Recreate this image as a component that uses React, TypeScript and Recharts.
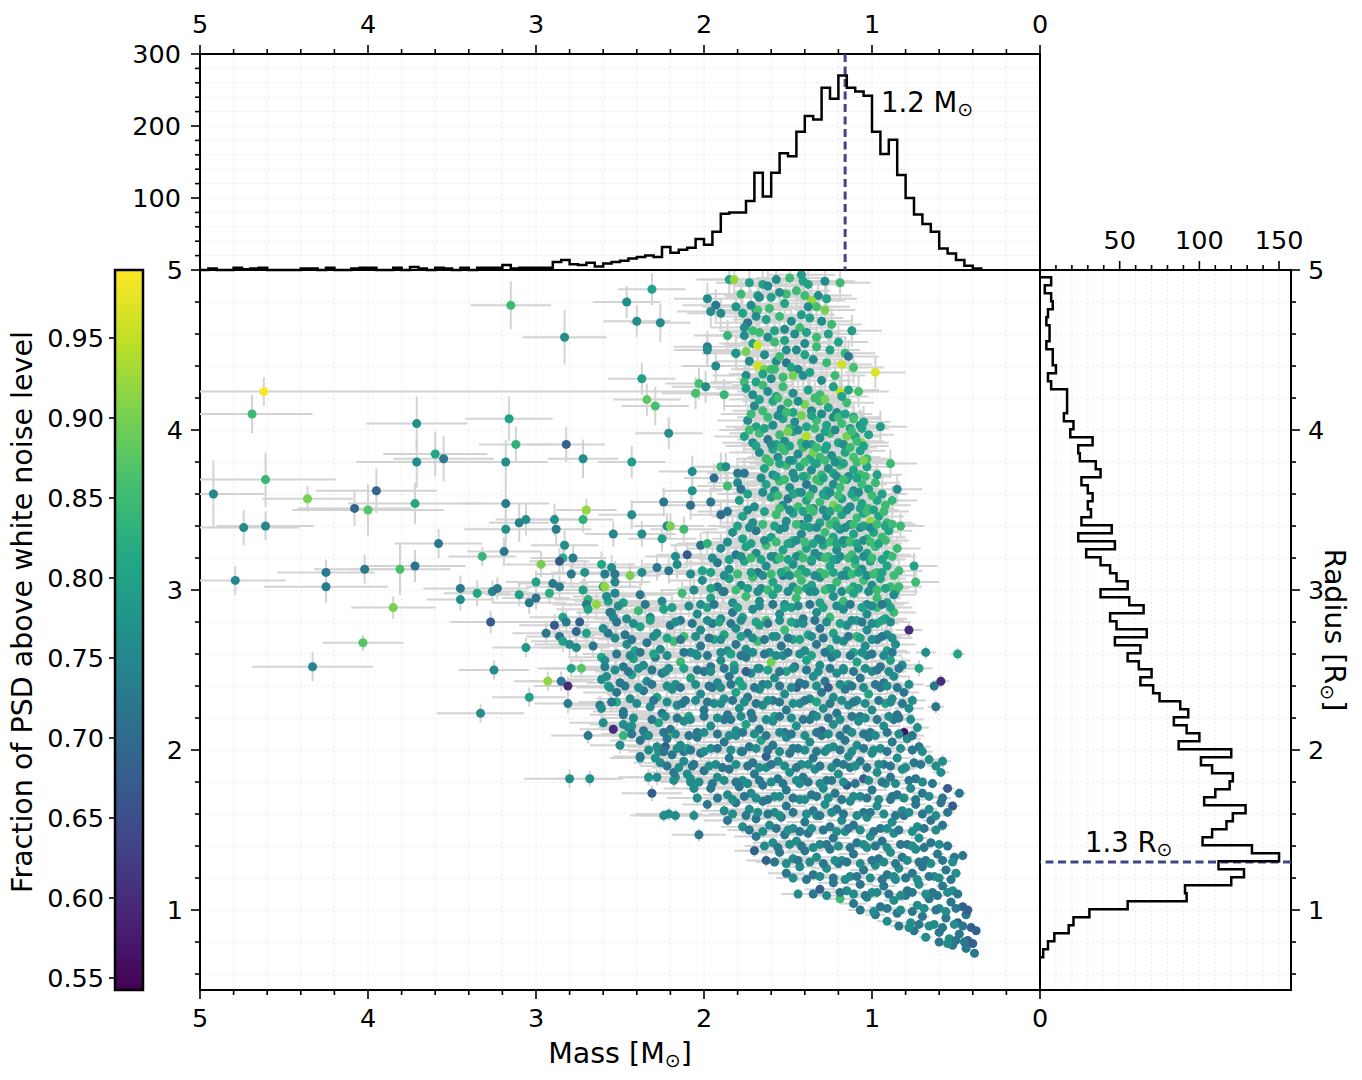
import {
  ScatterChart,
  Scatter,
  XAxis,
  YAxis,
  ZAxis,
  ErrorBar,
  Cell,
  CartesianGrid,
  ReferenceLine,
  ReferenceArea,
  Label,
} from "recharts";

const W = 1362;
const H = 1080;
const FONT = "'DejaVu Sans', 'Liberation Sans', sans-serif";
const TICK_FONT = 25.5;
const LABEL_FONT = 28.5;
const ERR_GREY = "#d3d3d3";
const PEAK_BLUE = "#414487";

// main panel box (pixels) – used for the chart margins and the error-bar clip
const PLOT = { left: 200, top: 270, right: 1040, bottom: 990 };

// axes
const MASS_TICKS = [0, 1, 2, 3, 4, 5];
const RADIUS_TICKS = [1, 2, 3, 4, 5];
const MASS_COUNT_TICKS = [100, 200, 300];
const RADIUS_COUNT_TICKS = [50, 100, 150];
const FRACTION_TICKS = [0.55, 0.6, 0.65, 0.7, 0.75, 0.8, 0.85, 0.9, 0.95];
const FRACTION_MIN = 0.5425;
const FRACTION_MAX = 0.9925;
const VIRIDIS = ["#440154", "#482475", "#414487", "#355f8d", "#2a788e", "#21918c", "#22a884", "#44bf70", "#7ad151", "#bddf26", "#fde725"];

// peaks of the two histograms
const MASS_PEAK = 1.16;
const RADIUS_PEAK = 1.3;

// mass histogram (bins of 0.05 Msun starting at 0.35)
const MASS_BIN_START = 0.35;
const MASS_BIN_WIDTH = 0.05;
const MASS_COUNTS = [
  2, 6, 14, 23, 30, 53, 64, 77, 100, 132,
  181, 161, 192, 242, 248, 253, 270, 238, 253, 209,
  214, 192, 158, 162, 135, 102, 135, 96, 80, 80,
  78, 53, 35, 43, 31, 28, 24, 32, 18, 20,
  18, 16, 13, 11, 9, 5, 10, 7, 8, 14,
  11, 3, 3, 3, 3, 2, 7, 3, 3, 3,
  0, 3, 0, 2, 3, 0, 2, 4, 0, 3,
  0, 0, 3, 3, 2, 0, 0, 3, 0, 2,
  2, 0, 0, 0, 0, 3, 2, 1, 3, 0,
  0, 2, 0,
];

// radius histogram (bins of 0.05 Rsun starting at 0.705)
const RADIUS_BIN_START = 0.705;
const RADIUS_BIN_WIDTH = 0.05;
const RADIUS_COUNTS = [
  2, 5, 9, 18, 21, 31, 55, 92, 91, 120,
  128, 112, 150, 133, 102, 108, 117, 121, 129, 103,
  110, 119, 121, 108, 101, 120, 87, 100, 92, 84,
  93, 88, 75, 71, 63, 70, 62, 55, 63, 47,
  67, 48, 44, 65, 56, 38, 55, 48, 44, 38,
  29, 47, 24, 45, 26, 32, 30, 33, 30, 26,
  38, 35, 25, 24, 33, 19, 21, 15, 17, 17,
  17, 7, 5, 10, 8, 8, 4, 6, 6, 4,
  5, 8, 7, 3, 7,
];

// stars: [mass, radius, fraction, mass error, radius error]
const OUTLIERS = [
  [3.15,4.78,.85,.24,.15],[2.83,4.58,.76,.25,.17],[4.62,4.24,.99,2.6,.09],[4.69,4.10,.85,.36,.12],
  [3.71,4.04,.76,.30,.17],[3.16,4.07,.80,.26,.14],[3.60,3.85,.81,.31,.14],[3.55,3.82,.72,.30,.14],
  [3.71,3.80,.76,.36,.16],[3.12,3.91,.83,.22,.11],[2.82,3.91,.68,.23,.11],[3.18,3.80,.76,.25,.14],
  [2.72,3.82,.76,.21,.12],[4.92,3.60,.75,.30,.21],[4.61,3.69,.84,.42,.17],[4.36,3.57,.90,.27,.08],
  [3.95,3.62,.69,.36,.14],[4.08,3.51,.69,.34,.11],[4.00,3.50,.87,.45,.16],[3.72,3.54,.81,.40,.13],
  [4.74,3.39,.76,.33,.11],[4.61,3.40,.75,.29,.09],[3.18,3.54,.73,.26,.13],[3.10,3.42,.74,.18,.12],
  [3.06,3.44,.76,.18,.10],[3.18,3.38,.77,.25,.12],[2.89,3.44,.77,.20,.10],[2.88,3.38,.73,.21,.10],
  [2.70,3.50,.92,.18,.07],[2.72,3.44,.83,.18,.08],[2.54,3.35,.75,.17,.08],[3.58,3.29,.72,.26,.09],
  [3.32,3.21,.84,.20,.06],[3.19,3.24,.72,.22,.09],[2.83,3.28,.76,.20,.09],[2.84,3.20,.82,.19,.08],
  [2.86,3.18,.66,.18,.08],[2.78,3.20,.73,.20,.08],[2.97,3.16,.90,.21,.08],[4.79,3.06,.75,.30,.09],
  [4.25,3.11,.73,.29,.08],[4.25,3.02,.73,.37,.10],[4.02,3.13,.72,.30,.09],[3.81,3.13,.86,.30,.16],
  [3.72,3.15,.71,.30,.10],[3.85,2.89,.90,.25,.07],[4.03,2.67,.87,.24,.05],[4.33,2.52,.75,.36,.09],
  [3.45,3.01,.72,.22,.08],[3.45,2.94,.76,.20,.07],[3.35,2.98,.81,.20,.08],[3.26,2.99,.75,.21,.07],
  [3.23,3.01,.72,.19,.07],[3.10,2.97,.79,.20,.07],[3.04,2.92,.72,.22,.07],[3.00,2.95,.71,.20,.07],
  [3.00,3.05,.80,.18,.07],[2.92,2.98,.82,.20,.07],[2.90,3.04,.72,.21,.07],[2.86,3.02,.73,.20,.07],
  [3.27,2.80,.67,.24,.07],[3.06,2.64,.78,.20,.06],[3.25,2.50,.76,.21,.06],[2.93,2.43,.92,.20,.06],
  [2.85,2.43,.72,.19,.06],[2.81,2.40,.60,.20,.06],[3.04,2.33,.80,.22,.06],[2.81,2.29,.73,.20,.06],
  [2.94,2.73,.72,.20,.07],[2.89,2.78,.67,.21,.07],[2.86,2.71,.72,.20,.07],[2.84,2.68,.80,.19,.07],
  [2.84,2.83,.80,.20,.07],[2.82,2.80,.73,.22,.07],[2.76,2.74,.69,.20,.07],[2.74,2.80,.68,.20,.07],
  [2.80,2.66,.76,.21,.07],[2.76,2.64,.76,.20,.07],[2.70,2.73,.80,.19,.07],[2.66,2.65,.72,.20,.07],
  [2.79,2.51,.80,.20,.06],[2.73,2.51,.87,.21,.06],[2.61,2.44,.76,.20,.06],[2.59,2.52,.73,.18,.06],
  [2.61,2.58,.81,.20,.06],[2.57,2.73,.72,.20,.07],[2.72,3.00,.80,.22,.07],[2.69,2.94,.83,.20,.07],
  [2.70,2.91,.73,.20,.07],[2.69,2.88,.80,.19,.07],[2.64,2.91,.92,.20,.07],[2.79,3.10,.72,.21,.08],
  [2.71,3.11,.77,.20,.08],[2.61,3.16,.81,.20,.08],[2.55,3.14,.76,.22,.08],[2.59,3.10,.73,.20,.08],
  [2.53,3.10,.72,.20,.08],[2.60,3.02,.81,.19,.07],[2.59,3.02,.92,.20,.07],[2.53,3.05,.75,.21,.07],
  [2.53,2.98,.75,.20,.07],[2.57,2.93,.80,.20,.07],[2.55,2.86,.77,.20,.07],[2.54,2.83,.76,.19,.07],
  [2.57,2.40,.80,.20,.06],[2.62,2.28,.73,.21,.06],[2.52,2.30,.82,.20,.06],[2.56,2.39,.77,.20,.06],
  [3.33,2.23,.76,.26,.06],[2.80,1.82,.76,.27,.06],[2.68,1.82,.77,.20,.05],[2.69,2.09,.72,.22,.05],
  [2.54,2.13,.60,.20,.05],[2.48,2.09,.84,.18,.05],[2.50,2.03,.76,.18,.05],[2.60,2.17,.76,.20,.05],
  [2.48,2.24,.72,.18,.05],[2.45,2.14,.76,.18,.05],[2.43,2.15,.77,.18,.05],[2.35,2.09,.77,.20,.05],
  [2.38,1.95,.77,.18,.05],[2.33,1.83,.77,.18,.05],[2.28,1.83,.76,.18,.05],[2.31,1.73,.68,.18,.05],
  [2.24,1.59,.76,.20,.04],[2.21,1.60,.76,.20,.04],[2.17,1.59,.76,.20,.04],[2.06,1.59,.76,.18,.04],
  [2.03,1.47,.72,.16,.04],[2.21,2.10,.90,.18,.05],[2.23,2.02,.68,.18,.05],[2.27,1.99,.78,.18,.05],
  [2.24,1.99,.84,.18,.05],[2.29,1.95,.77,.18,.05],[2.18,1.81,.76,.18,.05],[2.17,1.83,.76,.18,.05],
  [2.12,1.99,.72,.18,.05],[2.10,2.01,.80,.18,.05],[2.07,1.90,.72,.18,.05],[2.10,1.85,.76,.18,.05],
  [2.08,1.80,.76,.18,.05],[2.06,1.76,.76,.18,.05],[2.04,1.70,.76,.18,.05],
];

const UPPER_SPARSE = [
  [2.46,4.80,.76,.20,.10],[2.31,4.88,.80,.20,.10],[2.40,4.68,.76,.20,.10],[2.26,4.67,.76,.18,.12],
  [2.37,4.32,.79,.20,.10],[2.34,4.19,.88,.20,.10],[2.29,4.15,.86,.20,.12],[2.21,3.98,.76,.20,.10],
  [2.43,3.80,.79,.20,.10],[2.07,3.74,.76,.20,.10],[1.94,3.70,.70,.18,.09],[1.86,3.65,.85,.18,.09],
  [2.07,3.62,.77,.18,.09],[2.43,3.47,.76,.20,.09],[2.24,3.55,.72,.20,.09],[2.08,3.53,.71,.18,.09],
  [1.96,3.55,.72,.18,.09],[2.37,3.35,.76,.20,.08],[2.22,3.40,.76,.20,.08],[2.20,3.40,.90,.20,.08],
  [2.12,3.38,.85,.20,.08],[2.25,3.32,.79,.20,.08],[2.02,3.28,.72,.18,.08],[2.10,3.22,.67,.18,.08],
  [2.17,3.21,.76,.18,.08],[2.28,3.14,.72,.18,.08],[2.21,3.12,.72,.18,.08],[2.37,3.11,.76,.18,.08],
  [2.44,3.09,.90,.18,.08],[1.98,3.29,.83,.18,.08],[1.90,3.47,.70,.18,.08],[1.86,3.49,.72,.18,.08],
  [1.98,4.82,.76,.20,.10],[1.93,4.78,.72,.20,.10],[1.96,4.74,.76,.20,.10],[1.90,4.73,.76,.20,.10],
  [1.98,4.52,.73,.20,.10],[1.98,4.50,.76,.20,.10],[1.93,4.40,.76,.20,.10],[2.03,4.29,.86,.20,.10],
  [2.05,4.23,.86,.20,.10],[1.99,4.27,.76,.20,.10],[1.88,4.22,.84,.20,.10],[1.86,4.59,.84,.20,.10],
  [1.81,4.48,.79,.20,.10],[1.85,4.94,.80,.20,.10],[1.82,4.94,.92,.20,.10],[1.90,3.77,.84,.18,.09],
  [1.87,3.77,.76,.18,.09],[1.80,3.73,.72,.18,.09],[1.76,3.73,.72,.18,.09],
  [1.19,4.92,.85,.18,.10],[1.12,4.62,.79,.18,.10],[1.20,4.55,.80,.18,.10],[1.16,4.48,.84,.18,.10],
  [1.14,4.46,.72,.18,.10],[1.18,4.41,.96,.18,.10],[1.11,4.39,.86,.18,.10],[0.98,4.36,.97,.18,.10],
  [1.19,4.24,.95,.18,.10],[1.08,4.24,.86,.18,.10],[1.14,4.25,.80,.18,.10],[1.11,4.08,.79,.16,.10],
  [1.07,4.03,.76,.16,.10],[0.95,4.02,.79,.16,.10],[1.10,3.96,.80,.16,.10],[1.06,3.92,.92,.16,.10],
  [0.89,3.79,.85,.16,.09],[0.85,3.63,.76,.15,.09],[0.88,3.56,.84,.15,.09],[0.83,3.40,.85,.14,.08],
  [0.75,3.15,.80,.14,.08],[0.74,3.05,.85,.14,.08],[0.84,3.02,.85,.14,.08],
  [1.57,4.94,.76,.20,.10],[1.42,4.97,.79,.20,.10],[1.41,4.93,.80,.20,.10],[1.65,4.91,.80,.20,.10],
  [1.51,4.85,.85,.20,.10],[1.45,4.87,.85,.20,.10],[1.32,4.84,.76,.20,.10],[1.36,4.81,.92,.20,.10],
  [1.33,4.77,.86,.20,.10],[1.68,4.84,.80,.20,.10],[1.67,4.83,.76,.20,.10],[1.81,4.77,.78,.20,.10],
  [1.77,4.73,.80,.20,.10],[1.69,4.75,.80,.20,.10],[1.68,4.75,.86,.20,.10],[1.69,4.71,.76,.20,.10],
  [1.74,4.67,.72,.20,.10],[1.76,4.64,.76,.20,.10],[1.76,4.59,.76,.20,.10],[1.67,4.61,.85,.20,.10],
  [1.58,4.62,.80,.20,.10],[1.62,4.58,.76,.20,.10],[1.48,4.68,.76,.20,.10],[1.42,4.72,.79,.20,.10],
  [1.43,4.64,.85,.20,.10],[1.46,4.60,.76,.20,.10],[1.71,4.54,.80,.20,.10],[1.68,4.53,.96,.20,.10],
  [1.75,4.49,.90,.20,.10],[1.73,4.43,.76,.20,.10],[1.81,4.48,.78,.20,.10],[1.51,4.50,.76,.20,.10],
  [1.45,4.50,.76,.20,.10],[1.57,4.43,.76,.20,.10],[1.51,4.42,.72,.20,.10],[1.48,4.39,.80,.20,.10],
  [1.44,4.38,.76,.20,.10],[1.68,4.40,.96,.20,.10],[1.64,4.38,.90,.20,.10],[1.60,4.38,.85,.20,.10],
  [1.58,4.38,.85,.20,.10],[1.47,4.34,.90,.20,.10],[1.41,4.34,.76,.20,.10],[1.75,4.34,.76,.20,.10],
  [1.60,4.32,.76,.20,.10],[1.69,4.30,.80,.20,.10],[1.76,4.30,.85,.20,.10],
];

const TOP_FILL = [
  [1.73,4.92,.80,.20,.10],[1.62,4.90,.76,.20,.10],[1.49,4.95,.85,.20,.10],[1.38,4.91,.80,.20,.10],[1.28,4.93,.76,.18,.10],
  [1.78,4.85,.85,.20,.10],[1.60,4.83,.80,.20,.10],[1.55,4.86,.76,.20,.10],[1.40,4.84,.85,.20,.10],[1.27,4.82,.80,.18,.10],
  [1.72,4.78,.76,.20,.10],[1.61,4.76,.85,.20,.10],[1.52,4.79,.80,.20,.10],[1.38,4.77,.76,.20,.10],[1.28,4.75,.90,.18,.10],
  [1.63,4.69,.80,.20,.10],[1.55,4.71,.85,.20,.10],[1.37,4.70,.80,.20,.10],[1.30,4.68,.76,.18,.10],[1.24,4.66,.85,.18,.10],
  [1.71,4.62,.85,.20,.10],[1.52,4.63,.76,.20,.10],[1.39,4.61,.80,.20,.10],[1.33,4.58,.85,.18,.10],[1.26,4.60,.80,.18,.10],
  [1.58,4.55,.85,.20,.10],[1.52,4.56,.80,.20,.10],[1.40,4.54,.76,.20,.10],[1.33,4.52,.85,.18,.10],[1.25,4.50,.80,.18,.10],
  [1.64,4.47,.76,.20,.10],[1.55,4.46,.85,.20,.10],[1.40,4.47,.80,.20,.10],[1.35,4.44,.76,.18,.10],[1.27,4.42,.85,.18,.10],
  [1.65,4.35,.80,.20,.10],[1.53,4.33,.85,.20,.10],[1.37,4.36,.80,.18,.10],[1.30,4.31,.76,.18,.10],[1.22,4.34,.85,.18,.10],
];

const UPPER_CLOUD = [
  [1.75,4.26,.80,.18,.10],[1.71,4.22,.76,.18,.10],[1.65,4.28,.85,.18,.10],[1.62,4.24,.76,.18,.10],[1.57,4.21,.80,.18,.10],
  [1.53,4.27,.85,.18,.10],[1.47,4.23,.76,.18,.10],[1.38,4.25,.80,.18,.10],[1.31,4.22,.85,.16,.10],[1.23,4.27,.79,.16,.10],
  [1.70,4.15,.76,.18,.10],[1.65,4.12,.85,.18,.10],[1.59,4.18,.80,.18,.10],[1.54,4.13,.76,.18,.10],[1.50,4.17,.85,.18,.10],
  [1.47,4.11,.80,.18,.10],[1.40,4.16,.90,.18,.10],[1.36,4.12,.76,.16,.10],[1.31,4.18,.85,.16,.10],[1.26,4.14,.80,.16,.10],
  [1.21,4.11,.76,.16,.10],[1.15,4.17,.85,.16,.10],
  [1.74,4.06,.76,.18,.10],[1.69,4.02,.80,.18,.10],[1.62,4.08,.85,.18,.10],[1.59,4.03,.76,.18,.10],[1.53,4.07,.80,.18,.10],
  [1.49,4.01,.85,.18,.10],[1.46,4.05,.76,.18,.10],[1.42,4.09,.90,.18,.10],[1.39,4.02,.80,.16,.10],[1.33,4.06,.85,.16,.10],
  [1.27,4.03,.80,.16,.10],[1.23,4.08,.76,.16,.10],[1.18,4.04,.85,.16,.10],[1.13,4.01,.80,.16,.10],[1.11,4.07,.86,.16,.10],
  [1.05,4.05,.80,.16,.10],
  [1.76,3.96,.80,.18,.10],[1.71,3.92,.76,.18,.10],[1.67,3.98,.85,.18,.10],[1.62,3.94,.72,.18,.10],[1.57,3.91,.80,.18,.10],
  [1.55,3.97,.85,.18,.10],[1.52,3.93,.76,.18,.10],[1.47,3.99,.80,.18,.10],[1.42,3.92,.85,.18,.10],[1.39,3.96,.94,.16,.10],
  [1.36,3.91,.80,.16,.10],[1.31,3.95,.76,.16,.10],[1.25,3.98,.85,.16,.10],[1.20,3.92,.80,.16,.10],[1.15,3.96,.90,.16,.10],
  [1.09,3.93,.85,.16,.10],[1.02,3.97,.80,.15,.10],
  [1.67,3.86,.76,.18,.10],[1.63,3.82,.85,.18,.10],[1.59,3.88,.80,.18,.10],[1.56,3.83,.76,.18,.10],[1.52,3.87,.85,.18,.10],
  [1.47,3.81,.80,.18,.10],[1.44,3.85,.76,.18,.10],[1.41,3.89,.85,.18,.10],[1.37,3.82,.80,.16,.10],[1.35,3.86,.90,.16,.10],
  [1.31,3.83,.85,.16,.10],[1.28,3.88,.80,.16,.10],[1.24,3.84,.76,.16,.10],[1.20,3.81,.85,.16,.10],[1.16,3.86,.80,.16,.10],
  [1.11,3.83,.86,.16,.10],[1.07,3.87,.80,.15,.10],[1.03,3.82,.85,.15,.10],
  [1.64,3.76,.80,.18,.10],[1.59,3.72,.76,.18,.10],[1.51,3.78,.85,.18,.10],[1.47,3.73,.76,.18,.10],[1.43,3.77,.80,.18,.10],
  [1.39,3.71,.85,.18,.10],[1.36,3.75,.76,.16,.10],[1.33,3.79,.80,.16,.10],[1.30,3.72,.85,.16,.10],[1.26,3.76,.76,.16,.10],
  [1.23,3.73,.80,.16,.10],[1.19,3.78,.85,.16,.10],[1.14,3.71,.76,.16,.10],[1.11,3.75,.80,.16,.10],[1.07,3.72,.85,.15,.10],
  [1.03,3.77,.80,.15,.10],
  [1.80,3.67,.76,.18,.10],[1.78,3.63,.72,.18,.10],[1.63,3.66,.80,.18,.10],[1.58,3.62,.76,.18,.10],[1.55,3.68,.85,.18,.10],
  [1.49,3.64,.76,.18,.10],[1.44,3.61,.80,.18,.10],[1.39,3.66,.72,.18,.10],[1.35,3.63,.76,.16,.10],[1.31,3.68,.85,.16,.10],
  [1.27,3.62,.80,.16,.10],[1.23,3.66,.76,.16,.10],[1.19,3.64,.85,.16,.10],[1.15,3.69,.80,.16,.10],[1.11,3.62,.76,.16,.10],
  [1.06,3.66,.85,.15,.10],[1.02,3.63,.80,.15,.10],[0.98,3.67,.85,.15,.09],
  [1.79,3.56,.79,.18,.09],[1.70,3.52,.76,.18,.09],[1.60,3.58,.80,.18,.09],[1.53,3.53,.76,.18,.09],[1.50,3.57,.72,.18,.09],
  [1.44,3.52,.85,.18,.09],[1.39,3.56,.80,.18,.09],[1.35,3.51,.76,.16,.09],[1.31,3.55,.85,.16,.09],[1.27,3.59,.80,.16,.09],
  [1.23,3.53,.90,.16,.09],[1.18,3.57,.80,.16,.09],[1.13,3.52,.76,.16,.09],[1.10,3.58,.85,.16,.09],[1.06,3.54,.80,.15,.09],
  [1.02,3.51,.85,.15,.09],[0.97,3.56,.80,.15,.09],[0.92,3.53,.85,.15,.09],
  [1.77,3.46,.80,.18,.09],[1.71,3.42,.76,.18,.09],[1.57,3.47,.85,.18,.09],[1.51,3.43,.76,.18,.09],[1.47,3.48,.80,.18,.09],
  [1.42,3.41,.72,.18,.09],[1.38,3.45,.76,.18,.09],[1.35,3.49,.85,.16,.09],[1.31,3.42,.80,.16,.09],[1.27,3.46,.76,.16,.09],
  [1.22,3.43,.85,.16,.09],[1.18,3.47,.80,.16,.09],[1.13,3.41,.76,.16,.09],[1.09,3.45,.85,.16,.09],[1.05,3.48,.80,.15,.09],
  [1.01,3.43,.92,.15,.09],[0.96,3.46,.80,.15,.09],[0.91,3.42,.85,.15,.09],
  [1.83,3.36,.76,.18,.09],[1.77,3.32,.80,.18,.09],[1.69,3.37,.72,.18,.09],[1.60,3.33,.80,.18,.09],[1.55,3.38,.76,.18,.09],
  [1.47,3.31,.85,.18,.09],[1.42,3.35,.76,.18,.09],[1.37,3.39,.80,.16,.09],[1.32,3.32,.76,.16,.09],[1.28,3.36,.85,.16,.09],
  [1.23,3.33,.80,.16,.09],[1.19,3.38,.76,.16,.09],[1.15,3.31,.85,.16,.09],[1.11,3.35,.80,.16,.09],[1.07,3.39,.76,.15,.09],
  [1.03,3.32,.85,.15,.09],[0.99,3.36,.80,.15,.09],[0.94,3.33,.85,.14,.08],[0.90,3.37,.80,.14,.08],
  [1.90,3.26,.76,.20,.09],[1.81,3.22,.72,.18,.09],[1.75,3.27,.80,.18,.09],[1.69,3.23,.76,.18,.09],[1.63,3.28,.85,.18,.09],
  [1.58,3.21,.76,.18,.09],[1.53,3.25,.80,.18,.09],[1.48,3.29,.76,.18,.09],[1.43,3.22,.85,.16,.09],[1.39,3.26,.80,.16,.09],
  [1.34,3.23,.76,.16,.09],[1.29,3.28,.80,.16,.09],[1.26,3.21,.85,.16,.09],[1.21,3.25,.76,.16,.09],[1.17,3.29,.80,.16,.09],
  [1.12,3.22,.85,.16,.09],[1.08,3.26,.76,.15,.09],[1.03,3.23,.80,.15,.09],[0.98,3.27,.85,.15,.08],[0.91,3.22,.80,.14,.08],
  [0.85,3.26,.85,.14,.08],
  [2.16,3.16,.76,.20,.09],[2.01,3.12,.80,.20,.09],[1.92,3.17,.72,.20,.09],[1.85,3.13,.76,.18,.09],[1.76,3.18,.80,.18,.09],
  [1.68,3.11,.72,.18,.09],[1.63,3.15,.76,.18,.09],[1.57,3.19,.80,.18,.09],[1.51,3.12,.85,.18,.09],[1.47,3.16,.76,.18,.09],
  [1.42,3.13,.80,.16,.09],[1.36,3.18,.76,.16,.09],[1.31,3.11,.85,.16,.09],[1.25,3.15,.80,.16,.09],[1.21,3.19,.76,.16,.09],
  [1.15,3.12,.80,.16,.09],[1.10,3.16,.85,.16,.09],[1.06,3.13,.76,.15,.09],[1.01,3.18,.80,.15,.08],[0.97,3.11,.85,.15,.08],
  [0.91,3.15,.80,.14,.08],[0.84,3.12,.85,.14,.08],
  [2.01,3.06,.76,.20,.09],[1.92,3.02,.72,.20,.09],[1.85,3.07,.80,.18,.09],[1.78,3.03,.76,.18,.09],[1.71,3.08,.85,.18,.09],
  [1.66,3.01,.76,.18,.09],[1.59,3.05,.80,.18,.09],[1.53,3.09,.72,.18,.09],[1.47,3.02,.76,.18,.09],[1.42,3.06,.85,.16,.09],
  [1.36,3.03,.80,.16,.09],[1.31,3.08,.76,.16,.09],[1.26,3.01,.80,.16,.09],[1.21,3.05,.85,.16,.09],[1.15,3.09,.76,.16,.09],
  [1.11,3.02,.80,.16,.09],[1.05,3.06,.85,.15,.08],[1.00,3.03,.76,.15,.08],[0.95,3.07,.80,.15,.08],[0.89,3.02,.85,.14,.08],
];

const UPPER_FILL = [
  [1.67,4.19,.80,.18,.10],[1.56,4.20,.85,.18,.10],[1.44,4.18,.76,.18,.10],[1.34,4.20,.85,.16,.10],[1.28,4.19,.90,.16,.10],[1.18,4.21,.80,.16,.10],
  [1.72,4.10,.85,.18,.10],[1.56,4.09,.76,.18,.10],[1.51,4.11,.85,.18,.10],[1.36,4.09,.80,.16,.10],[1.30,4.10,.76,.16,.10],[1.20,4.08,.85,.16,.10],[1.16,4.10,.80,.16,.10],
  [1.73,4.00,.85,.18,.10],[1.64,4.01,.80,.18,.10],[1.50,3.99,.90,.18,.10],[1.44,4.00,.76,.18,.10],[1.34,4.01,.85,.16,.10],[1.28,3.99,.80,.16,.10],[1.22,4.00,.76,.16,.10],[1.12,3.99,.85,.16,.10],[1.06,4.01,.80,.16,.10],
  [1.69,3.90,.80,.18,.10],[1.60,3.91,.76,.18,.10],[1.54,3.89,.85,.18,.10],[1.49,3.90,.80,.18,.10],[1.39,3.91,.76,.16,.10],[1.33,3.89,.85,.16,.10],[1.27,3.90,.80,.16,.10],[1.17,3.91,.76,.16,.10],[1.13,3.89,.85,.16,.10],[1.05,3.90,.80,.15,.10],
  [1.61,3.80,.85,.18,.10],[1.55,3.79,.80,.18,.10],[1.49,3.81,.76,.18,.10],[1.40,3.80,.85,.16,.10],[1.34,3.79,.80,.16,.10],[1.28,3.81,.85,.16,.10],[1.22,3.80,.76,.16,.10],[1.17,3.79,.80,.16,.10],[1.09,3.80,.85,.16,.10],[1.05,3.81,.90,.15,.10],
  [1.66,3.70,.76,.18,.10],[1.57,3.71,.80,.18,.10],[1.52,3.69,.85,.18,.10],[1.46,3.70,.76,.18,.10],[1.41,3.71,.80,.18,.10],[1.33,3.69,.85,.16,.10],[1.29,3.70,.80,.16,.10],[1.21,3.71,.76,.16,.10],[1.17,3.69,.85,.16,.10],[1.09,3.70,.80,.16,.10],[1.04,3.71,.85,.15,.10],[0.97,3.72,.80,.15,.09],
  [1.74,3.60,.80,.18,.09],[1.65,3.61,.76,.18,.09],[1.56,3.59,.85,.18,.09],[1.47,3.60,.80,.18,.09],[1.42,3.61,.76,.18,.09],[1.37,3.59,.85,.16,.09],[1.29,3.60,.80,.16,.09],[1.25,3.61,.76,.16,.09],[1.20,3.59,.85,.16,.09],[1.12,3.60,.80,.16,.09],[1.08,3.61,.76,.16,.09],[1.00,3.59,.85,.15,.09],[0.94,3.60,.80,.15,.09],
  [1.74,3.50,.76,.18,.09],[1.64,3.49,.80,.18,.09],[1.55,3.51,.85,.18,.09],[1.49,3.50,.76,.18,.09],[1.41,3.49,.80,.18,.09],[1.37,3.51,.85,.16,.09],[1.29,3.50,.76,.16,.09],[1.25,3.49,.80,.16,.09],[1.20,3.51,.85,.16,.09],[1.15,3.50,.76,.16,.09],[1.07,3.51,.80,.15,.09],[1.03,3.49,.85,.15,.09],[0.99,3.50,.80,.15,.09],[0.93,3.49,.85,.15,.09],
  [1.80,3.40,.80,.18,.09],[1.73,3.39,.76,.18,.09],[1.65,3.41,.85,.18,.09],[1.58,3.40,.80,.18,.09],[1.52,3.39,.76,.18,.09],[1.45,3.41,.85,.18,.09],[1.40,3.40,.80,.16,.09],[1.33,3.39,.76,.16,.09],[1.25,3.41,.85,.16,.09],[1.21,3.40,.80,.16,.09],[1.16,3.39,.76,.16,.09],[1.11,3.41,.85,.16,.09],[1.05,3.40,.80,.15,.09],[1.01,3.39,.76,.15,.09],[0.97,3.41,.85,.15,.09],[0.92,3.40,.80,.14,.08],[0.88,3.41,.85,.14,.08],
  [1.86,3.30,.76,.18,.09],[1.72,3.29,.80,.18,.09],[1.64,3.31,.76,.18,.09],[1.57,3.30,.85,.18,.09],[1.50,3.29,.80,.18,.09],[1.45,3.31,.76,.16,.09],[1.40,3.30,.85,.16,.09],[1.35,3.29,.80,.16,.09],[1.30,3.31,.76,.16,.09],[1.25,3.30,.85,.16,.09],[1.21,3.29,.80,.16,.09],[1.17,3.31,.76,.16,.09],[1.13,3.30,.85,.16,.09],[1.09,3.29,.80,.15,.09],[1.05,3.31,.76,.15,.09],[1.01,3.30,.85,.15,.09],[0.96,3.29,.80,.14,.08],[0.92,3.31,.85,.14,.08],
  [1.95,3.20,.76,.20,.09],[1.85,3.19,.80,.18,.09],[1.78,3.21,.76,.18,.09],[1.72,3.20,.85,.18,.09],[1.66,3.19,.80,.18,.09],[1.60,3.21,.76,.18,.09],[1.55,3.20,.85,.18,.09],[1.50,3.19,.80,.16,.09],[1.45,3.21,.76,.16,.09],[1.41,3.20,.85,.16,.09],[1.36,3.19,.80,.16,.09],[1.31,3.21,.76,.16,.09],[1.28,3.20,.85,.16,.09],[1.23,3.19,.80,.16,.09],[1.19,3.21,.76,.16,.09],[1.14,3.20,.85,.15,.09],[1.10,3.19,.80,.15,.09],[1.05,3.21,.76,.15,.09],[1.00,3.20,.85,.15,.08],[0.94,3.19,.80,.14,.08],[0.88,3.21,.85,.14,.08],
  [2.08,3.10,.76,.20,.09],[1.96,3.11,.80,.20,.09],[1.88,3.09,.76,.18,.09],[1.80,3.10,.85,.18,.09],[1.72,3.11,.80,.18,.09],[1.65,3.09,.76,.18,.09],[1.60,3.10,.85,.18,.09],[1.54,3.11,.80,.18,.09],[1.49,3.09,.76,.16,.09],[1.44,3.10,.85,.16,.09],[1.39,3.11,.80,.16,.09],[1.34,3.09,.76,.16,.09],[1.28,3.10,.85,.16,.09],[1.23,3.11,.80,.16,.09],[1.18,3.09,.76,.16,.09],[1.12,3.10,.85,.15,.09],[1.08,3.11,.80,.15,.09],[1.03,3.09,.76,.15,.08],[0.99,3.10,.85,.15,.08],[0.94,3.11,.80,.14,.08],[0.87,3.09,.85,.14,.08],
  [2.06,3.00,.76,.20,.08],[1.96,3.01,.80,.20,.08],[1.89,2.99,.76,.18,.08],[1.81,3.00,.85,.18,.08],[1.74,3.01,.80,.18,.08],[1.68,2.99,.76,.18,.08],[1.62,3.00,.85,.18,.08],[1.56,3.01,.80,.16,.08],[1.50,2.99,.76,.16,.08],[1.44,3.00,.85,.16,.08],[1.39,3.01,.80,.16,.08],[1.34,2.99,.76,.16,.08],[1.28,3.00,.85,.16,.08],[1.24,3.01,.80,.15,.08],[1.18,2.99,.76,.15,.08],[1.13,3.00,.85,.15,.08],[1.08,3.01,.80,.15,.08],[1.02,2.99,.76,.14,.08],[0.97,3.00,.85,.14,.08],[0.92,3.01,.80,.14,.08],[0.86,2.99,.85,.13,.08],
];

const LOWER_CLOUD = [
  [2.58,2.96,.76,.20,.07],[2.48,2.92,.80,.20,.07],[2.38,2.97,.72,.20,.07],[2.25,2.93,.76,.20,.07],[2.13,2.98,.85,.20,.07],
  [2.02,2.91,.76,.20,.07],[1.96,2.95,.80,.18,.07],[1.88,2.99,.72,.18,.07],[1.83,2.92,.76,.18,.07],[1.75,2.96,.85,.18,.07],
  [1.67,2.93,.76,.18,.07],[1.59,2.97,.80,.18,.07],[1.52,2.91,.76,.16,.07],[1.45,2.95,.85,.16,.07],[1.37,2.99,.76,.16,.07],
  [1.31,2.92,.80,.16,.07],[1.23,2.96,.76,.15,.07],[1.17,2.93,.85,.15,.07],[1.11,2.98,.80,.15,.07],[1.03,2.91,.76,.14,.07],
  [0.97,2.95,.85,.14,.07],[0.91,2.92,.80,.13,.07],[0.87,2.97,.76,.13,.07],
  [2.56,2.86,.72,.20,.07],[2.46,2.82,.76,.20,.07],[2.39,2.87,.85,.20,.07],[2.32,2.83,.76,.20,.07],[2.24,2.88,.80,.20,.07],
  [2.14,2.81,.72,.20,.07],[2.04,2.85,.76,.20,.07],[1.98,2.89,.80,.18,.07],[1.90,2.82,.76,.18,.07],[1.83,2.86,.72,.18,.07],
  [1.77,2.83,.80,.18,.07],[1.71,2.88,.76,.18,.07],[1.63,2.81,.85,.18,.07],[1.55,2.85,.76,.16,.07],[1.48,2.89,.80,.16,.07],
  [1.41,2.82,.72,.16,.07],[1.33,2.86,.76,.16,.07],[1.25,2.83,.85,.15,.07],[1.17,2.88,.76,.15,.07],[1.09,2.81,.80,.15,.07],
  [1.03,2.85,.76,.14,.07],[0.97,2.89,.85,.14,.07],[0.92,2.82,.80,.13,.07],[0.87,2.86,.85,.13,.06],
  [2.60,2.76,.76,.20,.07],[2.47,2.72,.72,.20,.07],[2.38,2.77,.80,.20,.07],[2.28,2.73,.76,.20,.07],[2.20,2.78,.72,.20,.07],
  [2.12,2.71,.85,.20,.07],[2.02,2.75,.76,.20,.07],[1.95,2.79,.72,.18,.07],[1.88,2.72,.80,.18,.07],[1.81,2.76,.76,.18,.07],
  [1.74,2.73,.72,.18,.07],[1.67,2.78,.80,.18,.07],[1.59,2.71,.76,.16,.07],[1.52,2.75,.85,.16,.07],[1.45,2.79,.76,.16,.07],
  [1.38,2.72,.80,.16,.07],[1.31,2.76,.72,.15,.07],[1.23,2.73,.80,.15,.07],[1.15,2.78,.76,.15,.07],[1.09,2.71,.85,.14,.07],
  [1.03,2.75,.76,.14,.06],[0.97,2.79,.80,.13,.06],[0.91,2.72,.76,.13,.06],
  [2.46,2.66,.76,.20,.07],[2.41,2.62,.80,.20,.07],[2.34,2.67,.72,.20,.07],[2.26,2.63,.76,.20,.07],[2.18,2.68,.85,.20,.07],
  [2.08,2.61,.76,.20,.07],[2.02,2.65,.72,.18,.07],[1.94,2.69,.80,.18,.07],[1.86,2.62,.76,.18,.07],[1.81,2.66,.72,.18,.07],
  [1.75,2.63,.76,.18,.07],[1.68,2.68,.85,.16,.07],[1.61,2.61,.76,.16,.07],[1.54,2.65,.72,.16,.07],[1.47,2.69,.80,.16,.07],
  [1.40,2.62,.76,.15,.07],[1.33,2.66,.72,.15,.07],[1.25,2.63,.80,.15,.07],[1.17,2.68,.76,.14,.06],[1.11,2.61,.80,.14,.06],
  [1.04,2.65,.76,.13,.06],[0.97,2.69,.72,.13,.06],[0.91,2.62,.80,.12,.06],[0.86,2.66,.76,.12,.06],
  [0.68,2.61,.76,.06,.04],[0.49,2.60,.80,.04,.04],[0.78,2.75,.60,.08,.05],
  [2.59,2.56,.76,.20,.06],[2.48,2.52,.72,.20,.06],[2.42,2.57,.80,.20,.06],[2.36,2.53,.76,.20,.06],[2.29,2.58,.72,.20,.06],
  [2.21,2.51,.76,.20,.06],[2.14,2.55,.85,.18,.06],[2.04,2.59,.76,.18,.06],[1.96,2.52,.72,.18,.06],[1.90,2.56,.76,.18,.06],
  [1.82,2.53,.80,.18,.06],[1.75,2.58,.72,.16,.06],[1.67,2.51,.76,.16,.06],[1.60,2.55,.90,.16,.06],[1.53,2.59,.76,.16,.06],
  [1.46,2.52,.72,.15,.06],[1.39,2.56,.80,.15,.06],[1.31,2.53,.76,.15,.06],[1.24,2.58,.72,.14,.06],[1.17,2.51,.76,.14,.06],
  [1.09,2.55,.80,.13,.06],[1.03,2.59,.76,.13,.06],[0.95,2.52,.72,.12,.06],[0.89,2.56,.80,.12,.06],[0.82,2.53,.76,.11,.05],
  [0.72,2.51,.80,.08,.05],
  [2.58,2.46,.76,.20,.06],[2.50,2.42,.72,.20,.06],[2.43,2.47,.80,.20,.06],[2.34,2.43,.76,.20,.06],[2.25,2.48,.72,.18,.06],
  [2.17,2.41,.76,.18,.06],[2.08,2.45,.80,.18,.06],[2.00,2.49,.72,.18,.06],[1.92,2.42,.76,.18,.06],[1.85,2.46,.72,.16,.06],
  [1.79,2.43,.80,.16,.06],[1.72,2.48,.76,.16,.06],[1.65,2.41,.72,.16,.06],[1.58,2.45,.76,.15,.06],[1.51,2.49,.80,.15,.06],
  [1.43,2.42,.72,.15,.06],[1.35,2.46,.76,.14,.06],[1.28,2.43,.72,.14,.06],[1.21,2.48,.76,.13,.06],[1.14,2.41,.80,.13,.06],
  [1.07,2.45,.72,.12,.06],[1.00,2.49,.76,.12,.05],[0.93,2.42,.72,.11,.05],[0.87,2.46,.76,.10,.05],[0.63,2.40,.72,.05,.04],
  [0.59,2.43,.60,.05,.04],
  [2.52,2.36,.72,.20,.06],[2.44,2.32,.76,.20,.06],[2.36,2.37,.72,.20,.06],[2.28,2.33,.80,.18,.06],[2.19,2.38,.76,.18,.06],
  [2.11,2.31,.72,.18,.06],[2.02,2.35,.76,.18,.06],[1.95,2.39,.72,.18,.06],[1.88,2.32,.76,.16,.06],[1.81,2.36,.80,.16,.06],
  [1.74,2.33,.72,.16,.06],[1.67,2.38,.76,.16,.06],[1.59,2.31,.72,.15,.06],[1.52,2.35,.76,.15,.06],[1.45,2.39,.68,.15,.06],
  [1.37,2.32,.76,.14,.05],[1.30,2.36,.72,.14,.05],[1.23,2.33,.76,.13,.05],[1.16,2.38,.72,.13,.05],[1.09,2.31,.76,.12,.05],
  [1.02,2.35,.80,.12,.05],[0.95,2.39,.72,.11,.05],[0.88,2.32,.76,.10,.05],[0.81,2.36,.72,.09,.05],
  [2.61,2.26,.76,.20,.06],[2.48,2.22,.72,.20,.06],[2.32,2.27,.76,.18,.06],[2.25,2.23,.72,.18,.06],[2.16,2.28,.76,.18,.06],
  [2.09,2.21,.80,.18,.06],[2.00,2.25,.72,.18,.06],[1.94,2.29,.76,.16,.06],[1.86,2.22,.72,.16,.06],[1.79,2.26,.76,.16,.06],
  [1.72,2.23,.72,.16,.05],[1.65,2.28,.76,.15,.05],[1.58,2.21,.80,.15,.05],[1.51,2.25,.72,.15,.05],[1.43,2.29,.76,.14,.05],
  [1.35,2.22,.72,.14,.05],[1.29,2.26,.76,.13,.05],[1.21,2.23,.72,.13,.05],[1.14,2.28,.76,.12,.05],[1.07,2.21,.72,.12,.05],
  [1.00,2.25,.76,.11,.05],[0.92,2.29,.80,.10,.05],[0.85,2.22,.72,.10,.05],[0.78,2.26,.76,.09,.04],[0.62,2.27,.72,.05,.04],
  [2.48,2.16,.76,.20,.05],[2.36,2.12,.72,.18,.05],[2.27,2.17,.80,.18,.05],[2.20,2.13,.72,.18,.05],[2.12,2.18,.76,.18,.05],
  [2.04,2.11,.72,.16,.05],[1.96,2.15,.76,.16,.05],[1.88,2.19,.72,.16,.05],[1.81,2.12,.76,.16,.05],[1.75,2.16,.80,.15,.05],
  [1.67,2.13,.72,.15,.05],[1.59,2.18,.76,.15,.05],[1.52,2.11,.72,.14,.05],[1.45,2.15,.76,.14,.05],[1.37,2.19,.72,.13,.05],
  [1.30,2.12,.68,.13,.05],[1.23,2.16,.76,.12,.05],[1.15,2.13,.72,.12,.05],[1.08,2.18,.76,.11,.05],[1.01,2.11,.72,.11,.05],
  [0.93,2.15,.76,.10,.04],[0.87,2.19,.72,.09,.04],[0.81,2.11,.56,.08,.04],[0.73,2.14,.76,.07,.04],
  [2.38,2.06,.72,.18,.05],[2.28,2.02,.76,.18,.05],[2.22,2.07,.72,.18,.05],[2.14,2.03,.76,.16,.05],[2.04,2.08,.72,.16,.05],
  [1.96,2.01,.76,.16,.05],[1.88,2.05,.72,.16,.05],[1.81,2.09,.76,.15,.05],[1.73,2.02,.72,.15,.05],[1.66,2.06,.80,.15,.05],
  [1.59,2.03,.72,.14,.05],[1.51,2.08,.76,.14,.05],[1.44,2.01,.72,.13,.05],[1.37,2.05,.76,.13,.05],[1.30,2.09,.72,.12,.05],
  [1.23,2.02,.76,.12,.05],[1.16,2.06,.72,.11,.05],[1.09,2.03,.76,.11,.04],[1.02,2.08,.72,.10,.04],[0.95,2.01,.76,.10,.04],
  [0.88,2.05,.72,.09,.04],[0.79,2.07,.76,.08,.04],[0.72,2.02,.72,.07,.04],
  [2.38,1.96,.72,.16,.05],[2.26,1.92,.76,.16,.05],[2.19,1.97,.72,.16,.05],[2.12,1.93,.76,.16,.05],[2.02,1.98,.72,.15,.05],
  [1.93,1.91,.76,.15,.05],[1.85,1.95,.72,.15,.05],[1.78,1.99,.76,.14,.05],[1.71,1.92,.72,.14,.05],[1.63,1.96,.68,.14,.05],
  [1.56,1.93,.76,.13,.05],[1.49,1.98,.72,.13,.04],[1.42,1.91,.76,.12,.04],[1.35,1.95,.72,.12,.04],[1.28,1.99,.76,.11,.04],
  [1.21,1.92,.72,.11,.04],[1.14,1.96,.76,.10,.04],[1.07,1.93,.72,.10,.04],[1.00,1.98,.76,.09,.04],[0.93,1.91,.72,.09,.04],
  [0.85,1.95,.76,.08,.04],[0.75,1.92,.72,.07,.04],[0.66,1.94,.76,.06,.04],[0.58,1.93,.76,.05,.04],
  [2.18,1.86,.72,.16,.05],[2.08,1.82,.76,.16,.05],[2.00,1.87,.72,.15,.05],[1.92,1.83,.76,.15,.05],[1.85,1.88,.72,.15,.05],
  [1.77,1.81,.76,.14,.05],[1.70,1.85,.72,.14,.05],[1.63,1.89,.76,.13,.04],[1.56,1.82,.72,.13,.04],[1.49,1.86,.76,.12,.04],
  [1.41,1.83,.72,.12,.04],[1.34,1.88,.76,.11,.04],[1.27,1.81,.72,.11,.04],[1.20,1.85,.76,.10,.04],[1.13,1.89,.72,.10,.04],
  [1.05,1.82,.67,.09,.04],[0.97,1.86,.76,.09,.04],[0.89,1.83,.72,.08,.04],[0.82,1.88,.76,.07,.04],[0.74,1.82,.72,.06,.03],
  [0.59,1.86,.76,.05,.03],
  [1.96,1.76,.72,.15,.05],[1.86,1.72,.76,.15,.05],[1.79,1.77,.72,.14,.05],[1.72,1.73,.76,.14,.04],[1.65,1.78,.72,.13,.04],
  [1.58,1.71,.76,.13,.04],[1.51,1.75,.72,.12,.04],[1.43,1.79,.76,.12,.04],[1.36,1.72,.72,.11,.04],[1.29,1.76,.76,.11,.04],
  [1.22,1.73,.72,.10,.04],[1.15,1.78,.67,.10,.04],[1.07,1.71,.76,.09,.04],[1.00,1.75,.72,.09,.04],[0.92,1.79,.76,.08,.04],
  [0.85,1.72,.72,.07,.03],[0.77,1.76,.76,.06,.03],[0.70,1.73,.72,.06,.03],[0.55,1.76,.67,.04,.03],[0.48,1.73,.72,.04,.03],
  [1.98,1.66,.72,.15,.04],[1.88,1.62,.76,.14,.04],[1.81,1.67,.72,.14,.04],[1.73,1.63,.76,.13,.04],[1.65,1.68,.72,.13,.04],
  [1.58,1.61,.76,.12,.04],[1.51,1.65,.72,.12,.04],[1.43,1.69,.76,.11,.04],[1.35,1.62,.72,.11,.04],[1.28,1.66,.76,.10,.04],
  [1.21,1.63,.72,.10,.04],[1.13,1.68,.76,.09,.04],[1.05,1.61,.72,.09,.03],[0.97,1.65,.76,.08,.03],[0.89,1.69,.72,.07,.03],
  [0.82,1.62,.76,.07,.03],[0.74,1.66,.72,.06,.03],[0.66,1.63,.76,.05,.03],[0.59,1.67,.72,.05,.03],[0.52,1.65,.67,.04,.03],
  [1.86,1.56,.72,.14,.04],[1.77,1.52,.76,.13,.04],[1.69,1.57,.72,.13,.04],[1.61,1.53,.76,.12,.04],[1.54,1.58,.72,.12,.04],
  [1.47,1.51,.76,.11,.04],[1.40,1.55,.72,.11,.04],[1.33,1.59,.76,.10,.04],[1.25,1.52,.72,.10,.04],[1.18,1.56,.76,.09,.03],
  [1.11,1.53,.72,.09,.03],[1.03,1.58,.76,.08,.03],[0.95,1.51,.72,.07,.03],[0.88,1.55,.76,.07,.03],[0.81,1.59,.72,.06,.03],
  [0.73,1.52,.76,.05,.03],[0.65,1.56,.72,.05,.03],[0.58,1.53,.72,.04,.03],
  [1.69,1.46,.72,.13,.04],[1.59,1.42,.76,.12,.04],[1.52,1.47,.72,.12,.04],[1.45,1.43,.76,.11,.04],[1.38,1.48,.72,.11,.04],
  [1.31,1.41,.76,.10,.03],[1.23,1.45,.72,.10,.03],[1.16,1.49,.76,.09,.03],[1.09,1.42,.72,.09,.03],[1.01,1.46,.76,.08,.03],
  [0.94,1.43,.72,.07,.03],[0.87,1.48,.76,.07,.03],[0.79,1.41,.72,.06,.03],[0.72,1.45,.76,.05,.03],[0.65,1.42,.72,.05,.03],
  [1.70,1.37,.68,.12,.04],[1.63,1.31,.68,.12,.04],[1.55,1.36,.72,.12,.04],[1.47,1.32,.76,.11,.04],[1.40,1.37,.72,.11,.04],
  [1.33,1.33,.76,.10,.03],[1.25,1.38,.72,.10,.03],[1.18,1.31,.76,.09,.03],[1.11,1.35,.72,.09,.03],[1.03,1.39,.76,.08,.03],
  [0.96,1.32,.72,.07,.03],[0.89,1.36,.76,.07,.03],[0.82,1.33,.72,.06,.03],[0.74,1.38,.76,.05,.03],[0.68,1.31,.72,.05,.03],
  [0.61,1.35,.72,.04,.03],[0.51,1.33,.72,.04,.03],[0.46,1.34,.72,.03,.03],
  [1.51,1.23,.72,.11,.03],[1.43,1.27,.76,.10,.03],[1.35,1.22,.72,.10,.03],[1.27,1.26,.76,.09,.03],[1.20,1.29,.72,.09,.03],
  [1.13,1.21,.76,.08,.03],[1.05,1.25,.72,.08,.03],[0.98,1.28,.76,.07,.03],[0.91,1.22,.72,.07,.03],[0.84,1.26,.76,.06,.03],
  [0.76,1.23,.72,.05,.03],[0.70,1.27,.72,.05,.03],[0.63,1.21,.76,.04,.02],[0.56,1.25,.72,.04,.02],[0.50,1.23,.76,.03,.02],
  [1.44,1.10,.76,.10,.03],[1.31,1.13,.68,.09,.03],[1.23,1.17,.72,.09,.03],[1.19,1.07,.85,.08,.03],[1.15,1.12,.76,.08,.03],
  [1.07,1.16,.72,.08,.03],[1.00,1.11,.76,.07,.03],[0.93,1.15,.72,.07,.03],[0.86,1.19,.76,.06,.02],[0.79,1.12,.72,.05,.02],
  [0.72,1.16,.76,.05,.02],[0.64,1.11,.72,.04,.02],[0.58,1.15,.72,.04,.02],[0.52,1.12,.76,.03,.02],
  [1.11,1.04,.72,.08,.03],[1.03,1.08,.76,.07,.03],[0.95,1.02,.72,.07,.03],[0.87,1.06,.76,.06,.02],[0.80,1.09,.72,.05,.02],
  [0.73,1.03,.76,.05,.02],[0.66,1.07,.72,.04,.02],[0.60,1.01,.76,.04,.02],[0.53,1.05,.72,.03,.02],[0.46,1.02,.68,.03,.02],
  [0.98,0.97,.72,.06,.02],[0.91,0.93,.76,.06,.02],[0.85,0.98,.72,.05,.02],[0.77,0.92,.76,.05,.02],[0.70,0.96,.72,.04,.02],
  [0.63,0.91,.76,.04,.02],[0.56,0.95,.72,.03,.02],[0.49,0.92,.68,.03,.02],[0.44,0.97,.72,.03,.02],
  [0.75,0.87,.72,.04,.02],[0.68,0.83,.76,.04,.02],[0.60,0.86,.72,.03,.02],[0.54,0.82,.76,.03,.02],[0.48,0.85,.72,.03,.02],
  [0.43,0.81,.68,.02,.02],[0.38,0.87,.68,.02,.02],
  [0.52,0.78,.72,.03,.02],[0.44,0.76,.72,.02,.02],[0.39,0.73,.72,.02,.02],
];

const LOWER_FILL = [
  [2.51,2.90,.76,.20,.07],[2.35,2.91,.72,.20,.07],[2.19,2.89,.80,.20,.07],[2.09,2.90,.76,.20,.07],[1.94,2.91,.72,.18,.07],[1.80,2.89,.80,.18,.07],
  [1.67,2.90,.76,.18,.07],[1.59,2.91,.72,.16,.07],[1.52,2.89,.80,.16,.07],[1.44,2.90,.76,.16,.07],[1.37,2.91,.72,.16,.07],[1.29,2.89,.80,.15,.07],
  [1.21,2.90,.76,.15,.07],[1.13,2.91,.72,.15,.07],[1.06,2.89,.80,.14,.07],[1.00,2.90,.76,.14,.07],[0.94,2.91,.72,.13,.07],[0.89,2.89,.80,.13,.07],
  [2.52,2.80,.72,.20,.07],[2.42,2.79,.76,.20,.07],[2.32,2.81,.80,.20,.07],[2.17,2.80,.76,.20,.07],[2.07,2.79,.72,.20,.07],[1.98,2.81,.76,.18,.07],
  [1.91,2.80,.80,.18,.07],[1.84,2.79,.72,.18,.07],[1.78,2.81,.76,.18,.07],[1.69,2.80,.80,.16,.07],[1.62,2.79,.72,.16,.07],[1.55,2.81,.76,.16,.07],
  [1.48,2.80,.80,.16,.07],[1.41,2.79,.76,.15,.07],[1.34,2.81,.72,.15,.07],[1.27,2.80,.76,.15,.07],[1.19,2.79,.80,.14,.07],[1.12,2.81,.76,.14,.07],
  [1.06,2.80,.72,.14,.06],[1.00,2.79,.76,.13,.06],[0.94,2.81,.80,.13,.06],[0.89,2.80,.76,.12,.06],
  [2.53,2.70,.76,.20,.07],[2.43,2.69,.72,.20,.07],[2.30,2.71,.76,.20,.07],[2.22,2.70,.80,.20,.07],[2.14,2.69,.72,.20,.07],[2.05,2.71,.76,.18,.07],
  [1.97,2.70,.72,.18,.07],[1.90,2.69,.76,.18,.07],[1.78,2.71,.80,.18,.07],[1.71,2.70,.76,.16,.07],[1.64,2.69,.72,.16,.07],[1.57,2.71,.76,.16,.07],
  [1.50,2.70,.72,.16,.07],[1.43,2.69,.80,.15,.07],[1.36,2.71,.76,.15,.07],[1.29,2.70,.72,.15,.07],[1.21,2.69,.76,.14,.06],[1.14,2.71,.72,.14,.06],
  [1.07,2.70,.80,.13,.06],[1.00,2.69,.76,.13,.06],[0.94,2.71,.72,.12,.06],[0.88,2.70,.76,.12,.06],
  [2.52,2.60,.72,.20,.06],[2.44,2.59,.76,.20,.06],[2.38,2.61,.72,.20,.06],[2.30,2.60,.80,.20,.06],[2.22,2.59,.76,.20,.06],[2.12,2.61,.72,.18,.06],
  [2.05,2.60,.76,.18,.06],[1.98,2.59,.72,.18,.06],[1.90,2.61,.76,.18,.06],[1.84,2.60,.80,.16,.06],[1.78,2.59,.72,.16,.06],[1.71,2.61,.76,.16,.06],
  [1.64,2.60,.72,.16,.06],[1.57,2.59,.76,.15,.06],[1.50,2.61,.72,.15,.06],[1.43,2.60,.76,.15,.06],[1.36,2.59,.80,.14,.06],[1.28,2.61,.72,.14,.06],
  [1.21,2.60,.76,.13,.06],[1.13,2.59,.72,.13,.06],[1.06,2.61,.76,.12,.06],[1.00,2.60,.72,.12,.06],[0.93,2.59,.76,.11,.05],[0.88,2.61,.72,.11,.05],
  [2.53,2.50,.76,.20,.06],[2.45,2.49,.72,.20,.06],[2.39,2.51,.76,.20,.06],[2.31,2.50,.72,.18,.06],[2.23,2.49,.76,.18,.06],[2.12,2.51,.80,.18,.06],
  [2.04,2.50,.72,.18,.06],[1.96,2.49,.76,.18,.06],[1.88,2.51,.72,.16,.06],[1.82,2.50,.76,.16,.06],[1.75,2.49,.68,.16,.06],[1.68,2.51,.76,.16,.06],
  [1.62,2.50,.80,.15,.06],[1.55,2.49,.72,.15,.06],[1.47,2.51,.76,.15,.06],[1.39,2.50,.72,.14,.06],[1.32,2.49,.76,.14,.06],[1.25,2.51,.72,.13,.06],
  [1.17,2.50,.76,.13,.06],[1.11,2.49,.72,.12,.05],[1.04,2.51,.76,.12,.05],[0.97,2.50,.72,.11,.05],[0.90,2.49,.76,.10,.05],[0.84,2.51,.72,.10,.05],
  [2.47,2.40,.72,.20,.06],[2.39,2.39,.76,.20,.06],[2.31,2.41,.72,.18,.06],[2.22,2.40,.76,.18,.06],[2.14,2.39,.72,.18,.06],[2.05,2.41,.76,.18,.06],
  [1.97,2.40,.72,.18,.06],[1.90,2.39,.76,.16,.06],[1.84,2.41,.72,.16,.06],[1.77,2.40,.80,.16,.06],[1.70,2.39,.72,.16,.06],[1.62,2.41,.76,.15,.06],
  [1.55,2.40,.72,.15,.06],[1.48,2.39,.76,.15,.06],[1.40,2.41,.72,.14,.05],[1.33,2.40,.76,.14,.05],[1.26,2.39,.68,.13,.05],[1.19,2.41,.76,.13,.05],
  [1.12,2.40,.72,.12,.05],[1.05,2.39,.76,.12,.05],[0.98,2.41,.72,.11,.05],[0.91,2.40,.76,.10,.05],[0.85,2.39,.72,.10,.05],[0.78,2.41,.76,.09,.05],
  [2.55,2.30,.72,.20,.06],[2.40,2.29,.76,.20,.06],[2.30,2.31,.72,.18,.06],[2.22,2.30,.76,.18,.06],[2.13,2.29,.72,.18,.06],[2.05,2.31,.76,.18,.06],
  [1.98,2.30,.72,.16,.06],[1.90,2.29,.76,.16,.06],[1.83,2.31,.72,.16,.06],[1.76,2.30,.76,.16,.05],[1.69,2.29,.72,.15,.05],[1.62,2.31,.76,.15,.05],
  [1.55,2.30,.72,.15,.05],[1.47,2.29,.76,.14,.05],[1.40,2.31,.72,.14,.05],[1.33,2.30,.80,.13,.05],[1.25,2.29,.72,.13,.05],[1.18,2.31,.76,.12,.05],
  [1.11,2.30,.72,.12,.05],[1.04,2.29,.76,.11,.05],[0.96,2.31,.72,.10,.05],[0.89,2.30,.76,.10,.05],[0.82,2.29,.72,.09,.04],[0.76,2.31,.76,.08,.04],
  [2.42,2.20,.76,.18,.05],[2.31,2.19,.72,.18,.05],[2.23,2.21,.76,.18,.05],[2.16,2.20,.72,.18,.05],[2.08,2.19,.76,.16,.05],[2.00,2.21,.72,.16,.05],
  [1.92,2.20,.76,.16,.05],[1.84,2.19,.72,.16,.05],[1.78,2.21,.76,.15,.05],[1.71,2.20,.72,.15,.05],[1.63,2.19,.76,.15,.05],[1.55,2.21,.72,.14,.05],
  [1.48,2.20,.76,.14,.05],[1.41,2.19,.72,.13,.05],[1.33,2.21,.76,.13,.05],[1.26,2.20,.72,.12,.05],[1.19,2.19,.76,.12,.05],[1.12,2.21,.72,.11,.05],
  [1.04,2.20,.76,.11,.05],[0.97,2.19,.72,.10,.04],[0.90,2.21,.76,.09,.04],[0.84,2.20,.72,.09,.04],[0.77,2.19,.76,.08,.04],
  [2.43,2.10,.72,.18,.05],[2.33,2.09,.76,.18,.05],[2.24,2.11,.72,.18,.05],[2.17,2.10,.76,.16,.05],[2.09,2.09,.72,.16,.05],[2.00,2.11,.76,.16,.05],
  [1.92,2.10,.72,.16,.05],[1.85,2.09,.76,.15,.05],[1.77,2.11,.72,.15,.05],[1.70,2.10,.76,.15,.05],[1.63,2.09,.72,.14,.05],[1.55,2.11,.76,.14,.05],
  [1.48,2.10,.72,.13,.05],[1.40,2.09,.76,.13,.05],[1.33,2.11,.72,.12,.05],[1.26,2.10,.76,.12,.05],[1.19,2.09,.72,.11,.05],[1.12,2.11,.76,.11,.04],
  [1.05,2.10,.72,.10,.04],[0.98,2.09,.76,.10,.04],[0.91,2.11,.72,.09,.04],[0.84,2.10,.76,.08,.04],[0.76,2.09,.72,.07,.04],
  [2.33,2.00,.76,.16,.05],[2.24,1.99,.72,.16,.05],[2.16,2.01,.76,.16,.05],[2.08,2.00,.72,.16,.05],[2.00,1.99,.76,.15,.05],[1.92,2.01,.72,.15,.05],
  [1.84,2.00,.76,.15,.05],[1.77,1.99,.72,.14,.05],[1.69,2.01,.76,.14,.05],[1.62,2.00,.72,.14,.05],[1.55,1.99,.76,.13,.05],[1.47,2.01,.72,.13,.04],
  [1.40,2.00,.76,.12,.04],[1.33,1.99,.72,.12,.04],[1.26,2.01,.76,.11,.04],[1.19,2.00,.72,.11,.04],[1.12,1.99,.76,.10,.04],[1.05,2.01,.72,.10,.04],
  [0.99,2.00,.76,.09,.04],[0.91,1.99,.72,.09,.04],[0.83,2.01,.76,.08,.04],[0.76,2.00,.72,.07,.04],[0.70,1.99,.76,.06,.04],
  [2.22,1.90,.72,.16,.05],[2.15,1.89,.76,.16,.05],[2.06,1.91,.72,.15,.05],[1.97,1.90,.76,.15,.05],[1.89,1.89,.72,.15,.05],[1.81,1.91,.76,.14,.05],
  [1.74,1.90,.72,.14,.05],[1.67,1.89,.76,.13,.04],[1.60,1.91,.72,.13,.04],[1.52,1.90,.76,.12,.04],[1.45,1.89,.72,.12,.04],[1.38,1.91,.76,.11,.04],
  [1.31,1.90,.72,.11,.04],[1.24,1.89,.76,.10,.04],[1.17,1.91,.72,.10,.04],[1.10,1.90,.76,.09,.04],[1.03,1.89,.72,.09,.04],[0.96,1.91,.76,.08,.04],
  [0.89,1.90,.72,.08,.04],[0.80,1.89,.76,.07,.04],[0.71,1.91,.72,.06,.03],[0.62,1.90,.76,.05,.03],
  [2.03,1.80,.76,.15,.05],[1.95,1.79,.72,.15,.05],[1.88,1.81,.76,.14,.05],[1.81,1.80,.72,.14,.05],[1.74,1.79,.76,.14,.04],[1.67,1.81,.72,.13,.04],
  [1.60,1.80,.76,.13,.04],[1.53,1.79,.72,.12,.04],[1.45,1.81,.76,.12,.04],[1.38,1.80,.72,.11,.04],[1.31,1.79,.76,.11,.04],[1.24,1.81,.72,.10,.04],
  [1.17,1.80,.76,.10,.04],[1.10,1.79,.72,.09,.04],[1.02,1.81,.76,.09,.04],[0.94,1.80,.72,.08,.03],[0.86,1.79,.76,.07,.03],[0.78,1.81,.72,.06,.03],
  [0.70,1.80,.76,.06,.03],[0.64,1.79,.72,.05,.03],
  [1.92,1.70,.72,.15,.04],[1.83,1.69,.76,.14,.04],[1.76,1.71,.72,.14,.04],[1.69,1.70,.76,.13,.04],[1.62,1.69,.72,.13,.04],[1.55,1.71,.76,.12,.04],
  [1.47,1.70,.72,.12,.04],[1.40,1.69,.76,.11,.04],[1.33,1.71,.72,.11,.04],[1.26,1.70,.76,.10,.04],[1.18,1.69,.72,.10,.04],[1.11,1.71,.76,.09,.04],
  [1.03,1.70,.72,.09,.03],[0.96,1.69,.76,.08,.03],[0.88,1.71,.72,.07,.03],[0.81,1.70,.76,.07,.03],[0.74,1.69,.72,.06,.03],[0.66,1.71,.76,.05,.03],
  [0.58,1.70,.72,.05,.03],
  [1.83,1.60,.76,.14,.04],[1.75,1.59,.72,.13,.04],[1.68,1.61,.76,.13,.04],[1.62,1.60,.72,.12,.04],[1.55,1.59,.76,.12,.04],[1.47,1.61,.72,.11,.04],
  [1.39,1.60,.76,.11,.04],[1.31,1.59,.72,.10,.04],[1.24,1.61,.76,.10,.04],[1.17,1.60,.72,.09,.03],[1.09,1.59,.76,.09,.03],[1.01,1.61,.72,.08,.03],
  [0.93,1.60,.76,.07,.03],[0.86,1.59,.72,.07,.03],[0.78,1.61,.76,.06,.03],[0.70,1.60,.72,.05,.03],[0.62,1.59,.76,.05,.03],[0.55,1.61,.72,.04,.03],
  [1.73,1.50,.72,.13,.04],[1.65,1.49,.76,.13,.04],[1.57,1.51,.72,.12,.04],[1.50,1.50,.76,.12,.04],[1.43,1.49,.72,.11,.04],[1.36,1.51,.76,.11,.04],
  [1.29,1.50,.72,.10,.03],[1.21,1.49,.76,.10,.03],[1.14,1.51,.72,.09,.03],[1.07,1.50,.76,.09,.03],[0.99,1.49,.72,.08,.03],[0.91,1.51,.76,.07,.03],
  [0.84,1.50,.72,.07,.03],[0.76,1.49,.76,.06,.03],[0.69,1.51,.72,.05,.03],[0.62,1.50,.76,.05,.03],
  [1.64,1.40,.76,.12,.04],[1.56,1.39,.72,.12,.04],[1.49,1.41,.76,.11,.04],[1.42,1.40,.72,.11,.04],[1.35,1.39,.76,.10,.03],[1.27,1.41,.72,.10,.03],
  [1.20,1.40,.76,.09,.03],[1.13,1.39,.72,.09,.03],[1.05,1.41,.76,.08,.03],[0.98,1.40,.72,.08,.03],[0.91,1.39,.76,.07,.03],[0.83,1.41,.72,.06,.03],
  [0.76,1.40,.76,.06,.03],[0.69,1.39,.72,.05,.03],[0.60,1.41,.76,.04,.03],[0.55,1.40,.72,.04,.03],
  [1.58,1.30,.72,.11,.03],[1.51,1.29,.76,.11,.03],[1.44,1.31,.72,.10,.03],[1.37,1.30,.76,.10,.03],[1.29,1.29,.72,.09,.03],[1.22,1.31,.76,.09,.03],
  [1.15,1.30,.72,.08,.03],[1.07,1.29,.76,.08,.03],[1.00,1.31,.72,.07,.03],[0.93,1.30,.76,.07,.03],[0.86,1.29,.72,.06,.03],[0.79,1.31,.76,.05,.03],
  [0.72,1.30,.72,.05,.03],[0.65,1.29,.76,.04,.02],[0.58,1.31,.72,.04,.02],[0.52,1.30,.76,.03,.02],
  [1.47,1.20,.76,.10,.03],[1.39,1.19,.72,.10,.03],[1.31,1.21,.76,.09,.03],[1.23,1.20,.72,.09,.03],[1.16,1.19,.76,.08,.03],[1.09,1.21,.72,.08,.03],
  [1.01,1.20,.76,.07,.03],[0.94,1.19,.72,.07,.03],[0.87,1.21,.76,.06,.02],[0.80,1.20,.72,.06,.02],[0.73,1.19,.76,.05,.02],[0.66,1.21,.72,.04,.02],
  [0.60,1.20,.76,.04,.02],[0.53,1.19,.72,.03,.02],
  [1.35,1.10,.72,.09,.03],[1.27,1.09,.76,.09,.03],[1.19,1.11,.72,.08,.03],[1.11,1.10,.76,.08,.03],[1.04,1.09,.72,.07,.03],[0.97,1.11,.76,.07,.03],
  [0.90,1.10,.72,.06,.02],[0.83,1.09,.76,.06,.02],[0.76,1.11,.72,.05,.02],[0.68,1.10,.76,.04,.02],[0.61,1.09,.72,.04,.02],[0.55,1.11,.76,.03,.02],
  [0.49,1.10,.72,.03,.02],
  [1.07,1.00,.72,.07,.03],[0.99,0.99,.76,.07,.03],[0.91,1.01,.72,.06,.02],[0.83,1.00,.76,.06,.02],[0.76,0.99,.72,.05,.02],[0.69,1.01,.76,.04,.02],
  [0.62,1.00,.72,.04,.02],[0.56,0.99,.76,.03,.02],[0.50,1.01,.72,.03,.02],[0.43,1.00,.68,.03,.02],
  [0.84,0.90,.72,.05,.02],[0.78,0.89,.76,.05,.02],[0.72,0.91,.72,.04,.02],[0.66,0.90,.76,.04,.02],[0.58,0.89,.72,.03,.02],[0.51,0.91,.76,.03,.02],
  [0.46,0.90,.72,.02,.02],[0.41,0.89,.68,.02,.02],
  [0.60,0.80,.72,.03,.02],[0.55,0.79,.76,.03,.02],[0.50,0.81,.72,.03,.02],[0.45,0.80,.72,.02,.02],[0.40,0.79,.68,.02,.02],
];

const STARS = [...OUTLIERS, ...UPPER_SPARSE, ...TOP_FILL, ...UPPER_CLOUD, ...UPPER_FILL, ...LOWER_CLOUD, ...LOWER_FILL].map(
  ([m, r, f, dm, dr]) => ({ m, r, f, dm, dr })
);

// step outlines of the two histograms
const MASS_HIST = [{ x: MASS_BIN_START, y: 0 }];
MASS_COUNTS.forEach((c, i) => {
  const lo = MASS_BIN_START + i * MASS_BIN_WIDTH;
  MASS_HIST.push({ x: lo, y: c }, { x: lo + MASS_BIN_WIDTH, y: c });
});
MASS_HIST.push({ x: MASS_BIN_START + MASS_COUNTS.length * MASS_BIN_WIDTH, y: 0 });

const RADIUS_HIST = [{ x: 0, y: RADIUS_BIN_START }];
RADIUS_COUNTS.forEach((c, i) => {
  const lo = RADIUS_BIN_START + i * RADIUS_BIN_WIDTH;
  RADIUS_HIST.push({ x: c, y: lo }, { x: c, y: lo + RADIUS_BIN_WIDTH });
});
RADIUS_HIST.push({ x: 0, y: RADIUS_BIN_START + RADIUS_COUNTS.length * RADIUS_BIN_WIDTH });

// anchor points so the colour-bar axis has something to scale
const FRACTION_ANCHORS = FRACTION_TICKS.map((f) => ({ x: 0.5, y: f }));

function steps(from: number, to: number, step: number) {
  const out: number[] = [];
  for (let v = from; v <= to + 1e-9; v += step) out.push(Math.round(v * 1000) / 1000);
  return out;
}

const MASS_MINOR = steps(0, 5, 0.2);
const RADIUS_MINOR = steps(0.6, 5, 0.2);
const MASS_COUNT_MINOR = steps(20, 300, 20);
const RADIUS_COUNT_MINOR = steps(10, 150, 10);

function hexToRgb(h: string) {
  const n = parseInt(h.slice(1), 16);
  return [(n >> 16) & 255, (n >> 8) & 255, n & 255];
}

function viridis(f: number) {
  const t = Math.min(1, Math.max(0, (f - FRACTION_MIN) / (FRACTION_MAX - FRACTION_MIN)));
  const s = t * (VIRIDIS.length - 1);
  const i = Math.min(VIRIDIS.length - 2, Math.floor(s));
  const k = s - i;
  const a = hexToRgb(VIRIDIS[i]);
  const b = hexToRgb(VIRIDIS[i + 1]);
  return `rgb(${a.map((v, j) => Math.round(v + (b[j] - v) * k)).join(",")})`;
}

const textStyle = { fontFamily: FONT, fill: "#000" };

type Side = "bottom" | "top" | "left" | "right";

function makeTick(side: Side, majors: number[], fmt: (v: number) => string, majorLen = 9, minorLen = 5, gap = 17) {
  return (props: any) => {
    const { x, y, payload } = props;
    const v = payload.value;
    const major = majors.some((m) => Math.abs(m - v) < 1e-6);
    const len = major ? majorLen : minorLen;
    let line;
    let label = null;
    if (side === "bottom") {
      line = <line x1={x} y1={y} x2={x} y2={y + len} />;
      if (major) label = <text x={x} y={y + 37} textAnchor="middle">{fmt(v)}</text>;
    } else if (side === "top") {
      line = <line x1={x} y1={y} x2={x} y2={y - len} />;
      if (major) label = <text x={x} y={y - 21} textAnchor="middle">{fmt(v)}</text>;
    } else if (side === "left") {
      line = <line x1={x} y1={y} x2={x - len} y2={y} />;
      if (major) label = <text x={x - gap} y={y + 9} textAnchor="end">{fmt(v)}</text>;
    } else {
      line = <line x1={x} y1={y} x2={x + len} y2={y} />;
      if (major) label = <text x={x + gap} y={y + 9} textAnchor="start">{fmt(v)}</text>;
    }
    return (
      <g stroke="#000" strokeWidth={1.6}>
        {line}
        {label && (
          <g stroke="none" style={textStyle} fontSize={TICK_FONT}>
            {label}
          </g>
        )}
      </g>
    );
  };
}

const intFmt = (v: number) => String(Math.round(v));
const massTickBottom = makeTick("bottom", MASS_TICKS, intFmt);
const massTickTop = makeTick("top", MASS_TICKS, intFmt);
const radiusTickLeft = makeTick("left", RADIUS_TICKS, intFmt);
const radiusTickRight = makeTick("right", RADIUS_TICKS, intFmt, 9, 5, 17);
const massCountTick = makeTick("left", MASS_COUNT_TICKS, intFmt, 9, 5, 19);
const radiusCountTick = makeTick("top", RADIUS_COUNT_TICKS, intFmt);
const fractionTick = makeTick("left", FRACTION_TICKS, (v) => v.toFixed(2), 6, 4, 11);

const sunSub = (
  <tspan fontSize={19} dy={4}>
    ⊙
  </tspan>
);

function massAxisLabel(props: any) {
  const vb = props.viewBox;
  return (
    <text x={vb.x + vb.width / 2} y={vb.y + 73} textAnchor="middle" style={textStyle} fontSize={LABEL_FONT}>
      Mass [M{sunSub}
      <tspan dy={-4}>]</tspan>
    </text>
  );
}

function radiusAxisLabel(props: any) {
  const vb = props.viewBox;
  const x = vb.x + 34;
  const y = vb.y + vb.height / 2;
  return (
    <text x={x} y={y} transform={`rotate(90, ${x}, ${y})`} textAnchor="middle" style={textStyle} fontSize={LABEL_FONT}>
      Radius [R{sunSub}
      <tspan dy={-4}>]</tspan>
    </text>
  );
}

function fractionAxisLabel(props: any) {
  const vb = props.viewBox;
  const x = vb.x - 23;
  const y = vb.y + vb.height / 2 - 18;
  return (
    <text x={x} y={y} transform={`rotate(-90, ${x}, ${y})`} textAnchor="middle" style={textStyle} fontSize={LABEL_FONT}>
      Fraction of PSD above white noise level
    </text>
  );
}

function massPeakLabel(props: any) {
  const vb = props.viewBox;
  return (
    <text x={vb.x + 36} y={vb.y + 58} style={textStyle} fontSize={27.5}>
      {MASS_PEAK.toFixed(1)} M{sunSub}
    </text>
  );
}

function radiusPeakLabel(props: any) {
  const vb = props.viewBox;
  return (
    <text x={vb.x + 45} y={vb.y - 10} style={textStyle} fontSize={27.5}>
      {RADIUS_PEAK.toFixed(1)} R{sunSub}
    </text>
  );
}

const hidden = () => <g />;
const layer = { position: "absolute" as const, left: 0, top: 0 };
const grid = { stroke: "#ebebeb", strokeDasharray: "2 2" };
const axisCommon = {
  type: "number" as const,
  interval: 0,
  tickSize: 0,
  tickMargin: 0,
  tickLine: false,
  axisLine: false,
};

export default function App() {
  return (
    <div style={{ position: "absolute", left: 0, top: 0, width: W, height: H, background: "#fff" }}>
      {/* main scatter: mass vs radius coloured by PSD fraction */}
      <div style={layer}>
        <ScatterChart
          width={W}
          height={H}
          margin={{ top: PLOT.top, right: W - PLOT.right, bottom: H - PLOT.bottom - 60, left: PLOT.left - 60 }}
        >
          <defs>
            <clipPath id="mainPlotClip">
              <rect x={PLOT.left} y={PLOT.top} width={PLOT.right - PLOT.left} height={PLOT.bottom - PLOT.top} />
            </clipPath>
          </defs>
          <CartesianGrid {...grid} />
          <XAxis {...axisCommon} dataKey="m" domain={[0, 5]} reversed allowDataOverflow ticks={MASS_MINOR} height={60} tick={massTickBottom}>
            <Label content={massAxisLabel} />
          </XAxis>
          <YAxis {...axisCommon} dataKey="r" domain={[0.5, 5]} allowDataOverflow ticks={RADIUS_MINOR} width={60} tick={radiusTickLeft} />
          <ZAxis range={[56, 56]} />
          <Scatter data={STARS} shape={hidden} isAnimationActive={false}>
            <ErrorBar dataKey="dm" direction="x" width={0} stroke={ERR_GREY} strokeWidth={2} clipPath="url(#mainPlotClip)" />
            <ErrorBar dataKey="dr" direction="y" width={0} stroke={ERR_GREY} strokeWidth={2} clipPath="url(#mainPlotClip)" />
          </Scatter>
          <Scatter data={STARS} isAnimationActive={false}>
            {STARS.map((s, i) => (
              <Cell key={i} fill={viridis(s.f)} />
            ))}
          </Scatter>
          <ReferenceArea x1={0} x2={5} y1={0.5} y2={5} fill="none" stroke="#000" strokeWidth={2} ifOverflow="visible" />
        </ScatterChart>
      </div>

      {/* mass histogram on top */}
      <div style={layer}>
        <ScatterChart width={W} height={H} margin={{ top: 14, right: W - PLOT.right, bottom: H - PLOT.top, left: PLOT.left - 60 }}>
          <CartesianGrid {...grid} />
          <XAxis {...axisCommon} orientation="top" dataKey="x" domain={[0, 5]} reversed ticks={MASS_MINOR} height={40} tick={massTickTop} />
          <YAxis {...axisCommon} dataKey="y" domain={[0, 300]} ticks={MASS_COUNT_MINOR} width={60} tick={massCountTick} />
          <Scatter data={MASS_HIST} shape={hidden} line={{ stroke: "#000", strokeWidth: 2.5 }} lineType="joint" isAnimationActive={false} />
          <ReferenceLine x={MASS_PEAK} stroke={PEAK_BLUE} strokeWidth={3} strokeDasharray="8 4.5" label={massPeakLabel} />
          <ReferenceArea x1={0} x2={5} y1={0} y2={300} fill="none" stroke="#000" strokeWidth={2} ifOverflow="visible" />
        </ScatterChart>
      </div>

      {/* radius histogram on the right */}
      <div style={layer}>
        <ScatterChart width={W} height={H} margin={{ top: PLOT.top - 40, right: 11, bottom: H - PLOT.bottom, left: PLOT.right }}>
          <CartesianGrid {...grid} />
          <XAxis {...axisCommon} orientation="top" dataKey="x" domain={[0, 157.5]} ticks={RADIUS_COUNT_MINOR} height={40} tick={radiusCountTick} />
          <YAxis {...axisCommon} orientation="right" dataKey="y" domain={[0.5, 5]} ticks={RADIUS_MINOR} width={60} tick={radiusTickRight}>
            <Label content={radiusAxisLabel} />
          </YAxis>
          <Scatter data={RADIUS_HIST} shape={hidden} line={{ stroke: "#000", strokeWidth: 2.5 }} lineType="joint" isAnimationActive={false} />
          <ReferenceLine y={RADIUS_PEAK} stroke={PEAK_BLUE} strokeWidth={3} strokeDasharray="8 4.5" label={radiusPeakLabel} />
          <ReferenceArea x1={0} x2={157.5} y1={0.5} y2={5} fill="none" stroke="#000" strokeWidth={2} ifOverflow="visible" />
        </ScatterChart>
      </div>

      {/* colour bar */}
      <div style={layer}>
        <ScatterChart width={W} height={H} margin={{ top: PLOT.top, right: W - 143, bottom: H - PLOT.bottom, left: 55 }}>
          <defs>
            <linearGradient id="viridisBar" x1="0" y1="1" x2="0" y2="0">
              {VIRIDIS.map((c, i) => (
                <stop key={c} offset={i / (VIRIDIS.length - 1)} stopColor={c} />
              ))}
            </linearGradient>
          </defs>
          <XAxis type="number" dataKey="x" domain={[0, 1]} allowDataOverflow hide />
          <YAxis {...axisCommon} dataKey="y" domain={[FRACTION_MIN, FRACTION_MAX]} allowDataOverflow ticks={FRACTION_TICKS} width={60} tick={fractionTick}>
            <Label content={fractionAxisLabel} />
          </YAxis>
          <Scatter data={FRACTION_ANCHORS} shape={hidden} isAnimationActive={false} />
          <ReferenceArea x1={0} x2={1} y1={FRACTION_MIN} y2={FRACTION_MAX} fill="url(#viridisBar)" fillOpacity={1} stroke="none" ifOverflow="visible" />
          <ReferenceArea x1={0} x2={1} y1={FRACTION_MIN} y2={FRACTION_MAX} fill="none" stroke="#000" strokeWidth={2.5} ifOverflow="visible" />
        </ScatterChart>
      </div>
    </div>
  );
}
